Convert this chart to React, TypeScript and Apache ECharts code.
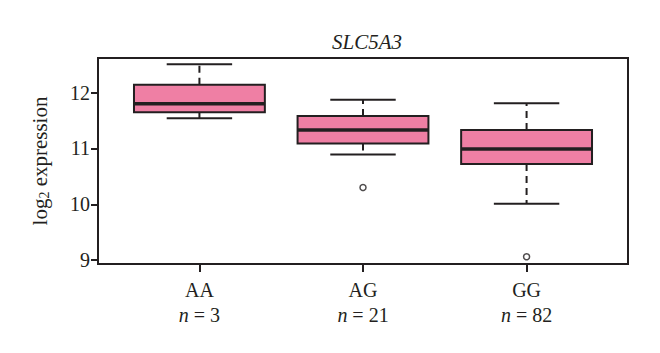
import React, { useEffect, useRef } from "react";
import * as echarts from "echarts";

const titleText = "SLC5A3";
const categories = ["AA", "AG", "GG"];
const counts = [3, 21, 82];
const whiskerLow = [11.54, 10.89, 10.01];
const q1 = [11.65, 11.09, 10.72];
const median = [11.8, 11.33, 10.99];
const q3 = [12.14, 11.58, 11.33];
const whiskerHigh = [12.51, 11.87, 11.81];
// [category position (1-based), value]
const outliers: [number, number][] = [
  [2, 10.3],
  [3, 9.06],
];
const yTicks = [9, 10, 11, 12];
const xTicks = [1, 2, 3];

const INK = "#231f20";
const PINK = "#ef7fa4";
const FONT = "'Liberation Serif', 'DejaVu Serif', serif";

export default function App() {
  const ref = useRef<HTMLDivElement>(null);
  useEffect(() => {
    if (!ref.current) return;
    const chart = echarts.init(ref.current, undefined, { renderer: "svg" });
    const boxData = categories.map((_, i) => [
      i + 1,
      whiskerLow[i],
      q1[i],
      median[i],
      q3[i],
      whiskerHigh[i],
    ]);
    chart.setOption({
      animation: false,
      backgroundColor: "#ffffff",
      textStyle: { fontFamily: FONT, color: INK },
      title: {
        text: titleText,
        left: 362,
        textAlign: "center",
        top: 26,
        textStyle: {
          fontFamily: FONT,
          fontStyle: "italic",
          fontWeight: "normal",
          fontSize: 21,
          color: INK,
        },
      },
      grid: {
        left: 98,
        right: 32,
        top: 58,
        bottom: 89,
        show: true,
        borderColor: INK,
        borderWidth: 2,
        backgroundColor: "transparent",
      },
      xAxis: {
        type: "value",
        min: 0.38,
        max: 3.62,
        axisLine: { show: false },
        splitLine: { show: false },
        axisTick: {
          show: true,
          customValues: xTicks,
          length: 8,
          lineStyle: { color: INK, width: 2 },
        },
        axisLabel: {
          customValues: xTicks,
          margin: 13,
          formatter: (v: number) =>
            `{c|${categories[v - 1]}}\n{i|n}{c| = ${counts[v - 1]}}`,
          rich: {
            c: { fontFamily: FONT, fontSize: 20, color: INK, lineHeight: 25 },
            i: {
              fontFamily: FONT,
              fontSize: 20,
              fontStyle: "italic",
              color: INK,
              lineHeight: 25,
            },
          },
        },
      },
      yAxis: {
        type: "value",
        min: 8.93,
        max: 12.62,
        name: "{m|log}{s|2}{m| expression}",
        nameLocation: "middle",
        nameGap: 46,
        nameRotate: 90,
        nameTextStyle: {
          rich: {
            m: { fontFamily: FONT, fontSize: 21, color: INK, lineHeight: 24 },
            s: {
              fontFamily: FONT,
              fontSize: 14,
              color: INK,
              padding: [9, 0, 0, 0],
            },
          },
        },
        axisLine: { show: false },
        splitLine: { show: false },
        axisTick: {
          show: true,
          customValues: yTicks,
          length: 7,
          lineStyle: { color: INK, width: 2 },
        },
        axisLabel: {
          customValues: yTicks,
          margin: 8,
          fontFamily: FONT,
          fontSize: 20,
          color: INK,
        },
      },
      series: [
        {
          type: "custom",
          data: boxData,
          encode: { x: 0, y: [1, 2, 3, 4, 5] },
          renderItem: (params: any, api: any) => {
            const x = api.value(0);
            const lo = api.value(1);
            const a = api.value(2);
            const m = api.value(3);
            const b = api.value(4);
            const hi = api.value(5);
            const half = api.size([0.4, 0])[0];
            const capHalf = api.size([0.2, 0])[0];
            const pLo = api.coord([x, lo]);
            const pA = api.coord([x, a]);
            const pM = api.coord([x, m]);
            const pB = api.coord([x, b]);
            const pHi = api.coord([x, hi]);
            const cx = pM[0];
            const dash = { stroke: INK, lineWidth: 2, lineDash: [7, 5] };
            const solid = { stroke: INK, lineWidth: 2 };
            return {
              type: "group",
              children: [
                {
                  type: "line",
                  shape: { x1: cx, y1: pB[1], x2: cx, y2: pHi[1] },
                  style: dash,
                },
                {
                  type: "line",
                  shape: { x1: cx, y1: pA[1], x2: cx, y2: pLo[1] },
                  style: dash,
                },
                {
                  type: "line",
                  shape: {
                    x1: cx - capHalf,
                    y1: pHi[1],
                    x2: cx + capHalf,
                    y2: pHi[1],
                  },
                  style: solid,
                },
                {
                  type: "line",
                  shape: {
                    x1: cx - capHalf,
                    y1: pLo[1],
                    x2: cx + capHalf,
                    y2: pLo[1],
                  },
                  style: solid,
                },
                {
                  type: "rect",
                  shape: {
                    x: cx - half,
                    y: pB[1],
                    width: half * 2,
                    height: pA[1] - pB[1],
                  },
                  style: { fill: PINK, stroke: INK, lineWidth: 2 },
                },
                {
                  type: "line",
                  shape: { x1: cx - half, y1: pM[1], x2: cx + half, y2: pM[1] },
                  style: { stroke: INK, lineWidth: 3.5 },
                },
              ],
            };
          },
        },
        {
          type: "scatter",
          data: outliers,
          symbol: "circle",
          symbolSize: 6,
          itemStyle: { color: "#ffffff", borderColor: INK, borderWidth: 1.5 },
        },
      ],
    });
    return () => chart.dispose();
  }, []);
  return (
    <div
      ref={ref}
      style={{
        position: "fixed",
        left: 0,
        top: 0,
        width: 660,
        height: 353,
        background: "#fff",
      }}
    />
  );
}
